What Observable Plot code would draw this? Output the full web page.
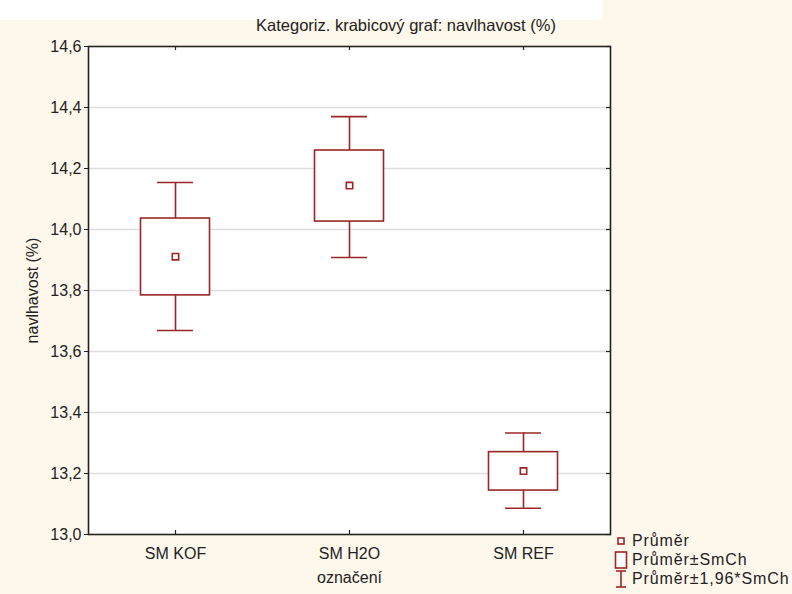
<!DOCTYPE html>
<html>
<head>
<meta charset="utf-8">
<script src="https://cdn.jsdelivr.net/npm/d3@7"></script>
<script src="https://cdn.jsdelivr.net/npm/@observablehq/plot@0.6"></script>
<style>
  body { margin: 0; background: #fef8ec; }
  #wrap { position: relative; width: 792px; height: 594px; overflow: hidden; font-family: "Liberation Sans", Arial, sans-serif; }
  #strip { position: absolute; left: 0; top: 0; width: 602px; height: 20px; background: #ffffff; }
  #title { position: absolute; left: 0; width: 812px; top: 16px; text-align: center; font-size: 16.5px; color: #222; }
  #chart { position: absolute; left: 0; top: 0; }
  #legend { position: absolute; left: 614px; top: 531px; font-size: 16px; letter-spacing: 0.9px; color: #222; line-height: 1; white-space: nowrap; }
  .row { display: flex; align-items: center; height: 19px; }
  .row svg { margin-right: 4px; }
</style>
</head>
<body>
<div id="wrap">
  <div id="strip"></div>
  <div id="chart"></div>
  <div id="title">Kategoriz. krabicový graf: navlhavost (%)</div>
  <div id="legend"></div>
</div>
<script>
const categories = ["SM KOF", "SM H2O", "SM REF"];
const means = [13.911, 14.144, 13.208];
const boxLo = [13.784, 14.026, 13.144];
const boxHi = [14.036, 14.259, 13.270];
const whiskerLo = [13.669, 13.908, 13.086];
const whiskerHi = [14.154, 14.370, 13.333];
const yTicks = [13.0, 13.2, 13.4, 13.6, 13.8, 14.0, 14.2, 14.4, 14.6];
const legendLabels = ["Průměr", "Průměr±SmCh", "Průměr±1,96*SmCh"];

const color = "#9b2626";
const data = categories.map((c, i) => ({
  cat: c, mean: means[i], lo: boxLo[i], hi: boxHi[i], wlo: whiskerLo[i], whi: whiskerHi[i]
}));
const fmt = d => d.toFixed(1).replace(".", ",");

const chart = Plot.plot({
  width: 792,
  height: 594,
  marginLeft: 88,
  marginRight: 182,
  marginTop: 46,
  marginBottom: 60,
  style: { background: "transparent", fontFamily: "Liberation Sans, Arial, sans-serif", fontSize: "16px", color: "#222" },
  x: { type: "band", domain: categories, padding: 0 },
  y: { domain: [13.0, 14.6] },
  marks: [
    Plot.frame({ fill: "white" }),
    Plot.ruleY(yTicks.slice(1, -1), { y: d => d, stroke: "#dedede", strokeWidth: 1.5 }),
    // whiskers
    Plot.ruleX(data, { x: "cat", y1: "wlo", y2: "lo", stroke: color, strokeWidth: 1.6 }),
    Plot.ruleX(data, { x: "cat", y1: "hi", y2: "whi", stroke: color, strokeWidth: 1.6 }),
    Plot.tickY(data, { x: "cat", y: "wlo", stroke: color, strokeWidth: 1.6, insetLeft: 69, insetRight: 69 }),
    Plot.tickY(data, { x: "cat", y: "whi", stroke: color, strokeWidth: 1.6, insetLeft: 69, insetRight: 69 }),
    // boxes
    Plot.rect(data, { x: "cat", y1: "lo", y2: "hi", fill: "white", stroke: color, strokeWidth: 1.6, insetLeft: 52.5, insetRight: 52.5 }),
    // means
    Plot.dot(data, { x: "cat", y: "mean", symbol: "square", r: 3.6, fill: "white", stroke: color, strokeWidth: 1.6 }),
    // inward ticks on top/bottom/right
    Plot.ruleX(categories, { x: d => d, insetBottom: 484, stroke: "#222", strokeWidth: 1.2 }),
    Plot.ruleX(categories, { x: d => d, insetTop: 484, stroke: "#222", strokeWidth: 1.2 }),
    Plot.ruleY(yTicks, { y: d => d, insetLeft: 518, stroke: "#222", strokeWidth: 1.2 }),
    Plot.axisY({ ticks: yTicks, tickFormat: fmt, tickSize: 4, tickPadding: 3, label: null, fontSize: 16 }),
    Plot.axisY({ ticks: [], label: "navlhavost (%)", labelAnchor: "center", labelArrow: "none", labelOffset: 62, fontSize: 16, style: { letterSpacing: "0.9px" } }),
    Plot.axisX({ tickSize: 0, tickPadding: 13, label: "označení", labelAnchor: "center", labelArrow: "none", labelOffset: 48, fontSize: 16 }),
    Plot.frame({ stroke: "#222", strokeWidth: 1.6 })
  ]
});
document.getElementById("chart").appendChild(chart);

// legend
const legend = d3.select("#legend");
const icons = [
  s => { s.append("rect").attr("x", 4).attr("y", 6).attr("width", 6).attr("height", 6).attr("fill", "white").attr("stroke", color).attr("stroke-width", 1.6); },
  s => { s.append("rect").attr("x", 1.5).attr("y", 1).attr("width", 11).attr("height", 16).attr("fill", "white").attr("stroke", color).attr("stroke-width", 1.6); },
  s => {
    s.append("line").attr("x1", 7).attr("x2", 7).attr("y1", 1).attr("y2", 17).attr("stroke", color).attr("stroke-width", 1.6);
    s.append("line").attr("x1", 2).attr("x2", 12).attr("y1", 1).attr("y2", 1).attr("stroke", color).attr("stroke-width", 1.6);
    s.append("line").attr("x1", 2).attr("x2", 12).attr("y1", 17).attr("y2", 17).attr("stroke", color).attr("stroke-width", 1.6);
  }
];
legendLabels.forEach((lab, i) => {
  const row = legend.append("div").attr("class", "row");
  const svg = row.append("svg").attr("width", 14).attr("height", 18);
  icons[i](svg);
  row.append("span").text(lab);
});
</script>
</body>
</html>
